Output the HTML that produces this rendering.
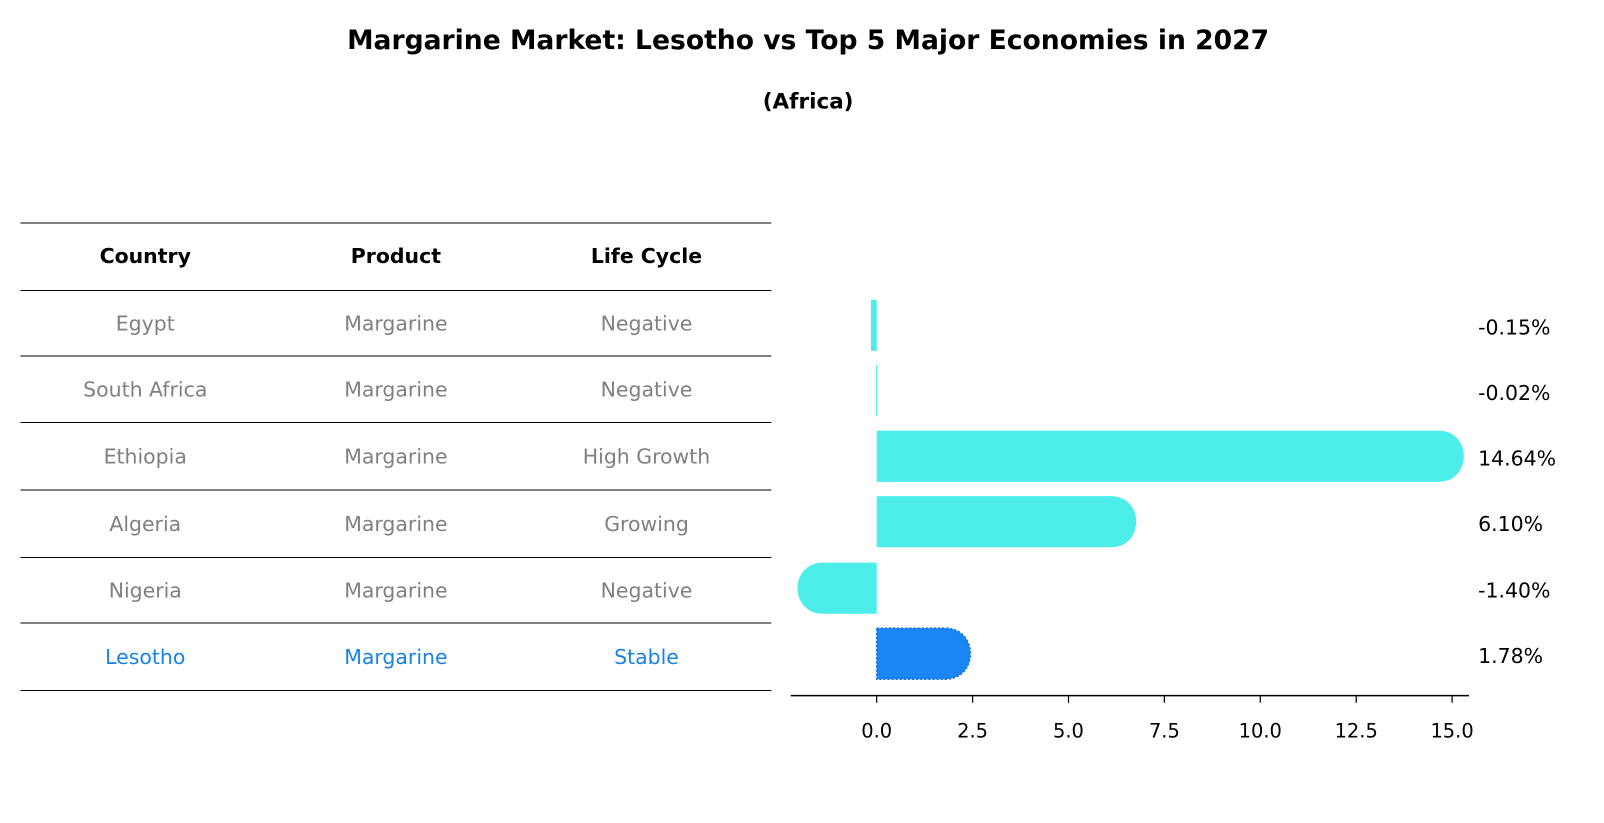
<!DOCTYPE html>
<html><head><meta charset="utf-8"><style>
html,body{margin:0;background:#fff;width:1604px;height:823px;overflow:hidden;font-family:"DejaVu Sans","Liberation Sans",sans-serif;}
svg{display:block;}
</style></head><body>
<svg width="1604" height="823" viewBox="0 0 1568 804.5" xmlns="http://www.w3.org/2000/svg" font-family="DejaVu Sans, Liberation Sans, sans-serif">
<text x="790" y="48" text-anchor="middle" font-size="26" font-weight="bold">Margarine Market: Lesotho vs Top 5 Major Economies in 2027</text>
<text x="790" y="106" text-anchor="middle" font-size="21" font-weight="bold">(Africa)</text>
<g id="table"></g>
<g id="plot"></g>
</svg>
<script>
const countries=["Egypt","South Africa","Ethiopia","Algeria","Nigeria","Lesotho"];
const products=["Margarine","Margarine","Margarine","Margarine","Margarine","Margarine"];
const lifeCycles=["Negative","Negative","High Growth","Growing","Negative","Stable"];
const growth=[-0.15,-0.02,14.64,6.10,-1.40,1.78];
const valueLabels=["-0.15%","-0.02%","14.64%","6.10%","-1.40%","1.78%"];
const ticks=[0,2.5,5,7.5,10,12.5,15];
const tickLabels=["0.0","2.5","5.0","7.5","10.0","12.5","15.0"];
const NS="http://www.w3.org/2000/svg";
function mk(tag,attrs,parent){const e=document.createElementNS(NS,tag);for(const k in attrs)e.setAttribute(k,attrs[k]);parent.appendChild(e);return e;}
const tbl=document.getElementById('table');
const lineYs=[218,284,348,413,479,545,609,675];
const colX=[142,387,632];
lineYs.forEach((y,i)=>{const l=mk('line',{x1:20,x2:754,y1:y,y2:y,stroke:'#000','stroke-width':1},tbl);

});
["Country","Product","Life Cycle"].forEach((h,i)=>{const t=mk('text',{x:colX[i],y:257,'text-anchor':'middle','font-size':20,'font-weight':'bold'},tbl);t.textContent=h;

});
countries.forEach((c,r)=>{const y=(lineYs[r+1]+lineYs[r+2])/2+7;const col=c==="Lesotho"?"#1a82e0":"#808080";
[c,products[r],lifeCycles[r]].forEach((v,i)=>{const t=mk('text',{x:colX[i],y:y,'text-anchor':'middle','font-size':20,fill:col},tbl);t.textContent=v;

});});
const plot=document.getElementById('plot');
const x0=857,scale=37.5;
const xs=v=>x0+v*scale;
const rowY=[318,382,446,510,575,639];
const bh=50,r=25;
growth.forEach((v,i)=>{const yc=rowY[i],top=yc-bh/2;const isL=countries[i]==="Lesotho";const fill=isL?"#1a85f5":"#4deeea";
const xe=xs(v);let d;
if(Math.abs(v)>0.5){const dir=v>0?1:-1;
d=`M${x0},${top} L${xe},${top} C${xe+dir*r*1.33},${top} ${xe+dir*r*1.33},${top+bh} ${xe},${top+bh} L${x0},${top+bh} Z`;}
else{const w=Math.max(Math.abs(xe-x0),1);d=`M${Math.min(x0,xe)},${top} h${w} v${bh} h${-w} Z`;}
const p=mk('path',{d:d,fill:fill},plot);
if(isL){p.setAttribute('stroke','#1a6fd0');p.setAttribute('stroke-dasharray','2,2');p.setAttribute('stroke-width','1.5');}


const t=mk('text',{x:1445,y:yc+9,'font-size':20},plot);t.textContent=valueLabels[i];

});
const ax=mk('line',{x1:773,x2:1436,y1:680,y2:680,stroke:'#000','stroke-width':1.5},plot);


ticks.forEach((t,i)=>{const x=xs(t);const tk=mk('line',{x1:x,x2:x,y1:680,y2:687,stroke:'#000','stroke-width':1.2},plot);


const lb=mk('text',{x:x,y:721,'text-anchor':'middle','font-size':19},plot);lb.textContent=tickLabels[i];

});
</script>
</body></html>
